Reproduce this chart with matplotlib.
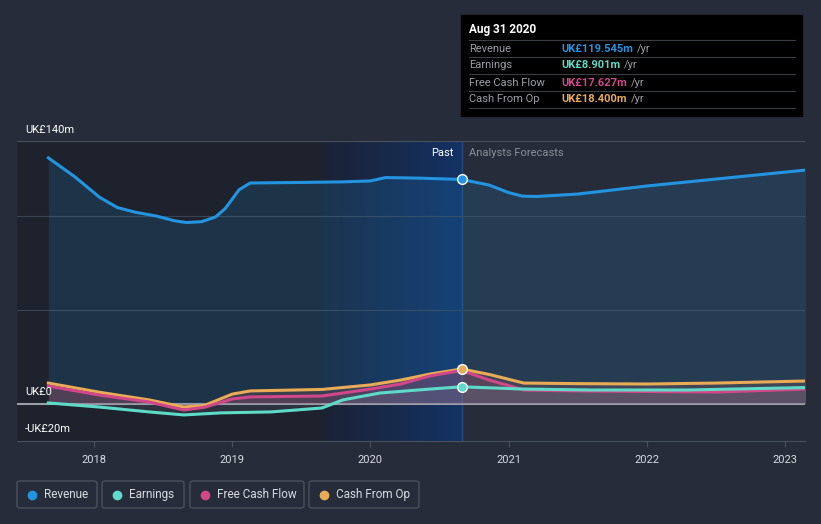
import numpy as np
import matplotlib.pyplot as plt
from matplotlib.patches import FancyBboxPatch, Rectangle
from matplotlib.lines import Line2D
from matplotlib.colors import LinearSegmentedColormap

plt.rcParams['font.family'] = ['Roboto', 'DejaVu Sans']

# dates as fractional years
rev_x = [2017.67, 2017.86, 2018.04, 2018.17, 2018.3, 2018.45, 2018.58, 2018.67, 2018.78, 2018.88,
         2018.95, 2019.05, 2019.13, 2019.5, 2019.8, 2020.0, 2020.11, 2020.35, 2020.66, 2020.86,
         2021.0, 2021.1, 2021.2, 2021.5, 2022.0, 2022.5, 2023.15]
rev_y = [131, 121, 110, 104.5, 102, 100, 97.5, 96.5, 97, 99.5,
         104, 114, 117.6, 117.9, 118.2, 118.7, 120.5, 120.2, 119.5, 116.5,
         112.5, 110.6, 110.4, 111.7, 116, 119.7, 124.5]

cfo_x = [2017.67, 2018.04, 2018.4, 2018.65, 2018.8, 2019.0, 2019.13, 2019.65, 2020.0, 2020.22,
         2020.43, 2020.66, 2020.86, 2021.11, 2021.5, 2022.0, 2022.5, 2023.15]
cfo_y = [10.9, 6, 1.9, -1.9, -1, 5, 6.7, 7.5, 9.9, 12.5,
         15.7, 18.4, 15.5, 10.9, 10.6, 10.4, 10.9, 12]

fcf_x = cfo_x
fcf_y = [9.3, 4.5, 0.8, -3.5, -2, 2.4, 3.5, 4, 7.7, 10.4,
         14.7, 17.627, 12.5, 7.2, 6.7, 6.4, 6.1, 7.7]

ear_x = [2017.67, 2018.04, 2018.4, 2018.65, 2018.92, 2019.28, 2019.65, 2019.8, 2020.07, 2020.43,
         2020.66, 2021.11, 2021.6, 2022.3, 2023.15]
ear_y = [0.3, -1.9, -4.5, -6.1, -5, -4.5, -2.4, 1.9, 5.6, 7.7,
         8.901, 7.7, 7.2, 7.2, 8.5]

years = [2018, 2019, 2020, 2021, 2022, 2023]
now_x = 2020.66
past_start = 2019.65

BG = '#262c39'
C_REV = '#2394e0'
C_EAR = '#5ddbc8'
C_FCF = '#d1478a'
C_CFO = '#e9ab55'

fig = plt.figure(figsize=(8.21, 5.24), dpi=100)
fig.patch.set_facecolor(BG)
ax = fig.add_axes([17 / 821, 1 - 441 / 524, 788 / 821, 300 / 524])
ax.set_facecolor(BG)
ax.set_xlim(2017.443, 2023.145)
ax.set_ylim(-20, 140)

# background regions
ax.axvspan(2017.443, past_start, color='#14171d', alpha=0.45, lw=0, zorder=0)
grad = LinearSegmentedColormap.from_list('past', ['#1b2234', '#133264'])
ax.imshow(np.linspace(0, 1, 100).reshape(1, -1), cmap=grad, aspect='auto',
          extent=[past_start, now_x, -20, 140], zorder=0)
ax.axvline(now_x, color='#24497a', lw=1, zorder=1)

for g in [50, 100]:
    ax.axhline(g, color='#3a4352', lw=0.8, zorder=1)
ax.axhline(140, color='#4a5260', lw=0.8, zorder=1)
ax.axhline(0, color='#9ba0a8', lw=1.5, zorder=2)

# fills
ax.fill_between(rev_x, rev_y, 0, color=C_REV, alpha=0.16, lw=0, zorder=2)
ax.fill_between(cfo_x, cfo_y, 0, color='#b07060', alpha=0.2, lw=0, zorder=2)
ax.fill_between(fcf_x, fcf_y, 0, color=C_FCF, alpha=0.15, lw=0, zorder=2)
ax.fill_between(ear_x, ear_y, 0, color='#8090a0', alpha=0.15, lw=0, zorder=2)

ax.plot(rev_x, rev_y, color=C_REV, lw=2.2, zorder=4, solid_joinstyle='round')
ax.plot(cfo_x, cfo_y, color=C_CFO, lw=2.2, zorder=4, solid_joinstyle='round')
ax.plot(fcf_x, fcf_y, color=C_FCF, lw=2.2, zorder=4, solid_joinstyle='round')
ax.plot(ear_x, ear_y, color=C_EAR, lw=2.2, zorder=4, solid_joinstyle='round')

for xs, ys, c in [(rev_x, rev_y, C_REV), (cfo_x, cfo_y, C_CFO), (ear_x, ear_y, C_EAR)]:
    i = xs.index(now_x)
    ax.plot(xs[i], ys[i], 'o', ms=7, mfc=c, mec='white', mew=1, zorder=6)

for s in ['top', 'right', 'left']:
    ax.spines[s].set_visible(False)
ax.spines['bottom'].set_color('#4a5260')
ax.set_yticks([])
ax.set_xticks(years)
ax.set_xticklabels([str(y) for y in years])
ax.tick_params(axis='x', colors='#4a5260', labelcolor='#d8dce2', labelsize=8, length=4, pad=6)

# y labels
fig.text(25 / 821, 1 - 130 / 524, 'UK£140m', color='white', fontsize=8, va='center')
fig.text(25 / 821, 1 - 392 / 524, 'UK£0', color='white', fontsize=8, va='center')
fig.text(25 / 821, 1 - 429 / 524, '-UK£20m', color='white', fontsize=8, va='center')
fig.text(453 / 821, 1 - 153 / 524, 'Past', color='white', fontsize=8, va='center', ha='right')
fig.text(469 / 821, 1 - 153 / 524, 'Analysts Forecasts', color='#8a909a', fontsize=8, va='center')

# tooltip
fig.patches.append(Rectangle((461 / 821, 1 - 116 / 524), 341 / 821, 101 / 524,
                             transform=fig.transFigure, color='black', zorder=5))
fig.text(469 / 821, 1 - 30 / 524, 'Aug 31 2020', color='white', fontsize=8.5, fontweight='bold',
         va='center', zorder=6)
rows = [('Revenue', 'UK£119.545m', C_REV), ('Earnings', 'UK£8.901m', C_EAR),
        ('Free Cash Flow', 'UK£17.627m', C_FCF), ('Cash From Op', 'UK£18.400m', C_CFO)]
for yl in [40, 57, 74, 91, 108]:
    fig.add_artist(Line2D([469 / 821, 795 / 821], [1 - yl / 524] * 2, color='#3a3d42', lw=0.8, zorder=6))
for k, (lab, val, c) in enumerate(rows):
    yc = 1 - (48.5 + 17 * k) / 524
    fig.text(469 / 821, yc, lab, color='#9a9ea5', fontsize=8, va='center', zorder=7)
    t = fig.text(561 / 821, yc, val, color=c, fontsize=8, fontweight='bold', va='center', zorder=7)
    fig.canvas.draw()
    bb = t.get_window_extent()
    fig.text(bb.x1 / 821 + 4 / 821, yc, '/yr', color='#9a9ea5', fontsize=8, va='center', zorder=7)

# legend boxes
legend = [('Revenue', C_REV, 17, 97), ('Earnings', C_EAR, 102, 184),
          ('Free Cash Flow', C_FCF, 190, 304), ('Cash From Op', C_CFO, 309, 419)]
for lab, c, x0, x1 in legend:
    fig.patches.append(FancyBboxPatch((x0 / 821, 1 - 508 / 524), (x1 - x0) / 821, 27 / 524,
                                      boxstyle='round,pad=0,rounding_size=0.004',
                                      transform=fig.transFigure, fc=BG, ec='#4a505c', lw=1))
    fig.add_artist(Line2D([(x0 + 15) / 821], [1 - 494.5 / 524], marker='o', ms=6,
                          color=c, mec=c))
    fig.text((x0 + 27) / 821, 1 - 494.5 / 524, lab, color='#d8dce2', fontsize=8.5, va='center')

fig.savefig('out.png', dpi=100, facecolor=BG)
